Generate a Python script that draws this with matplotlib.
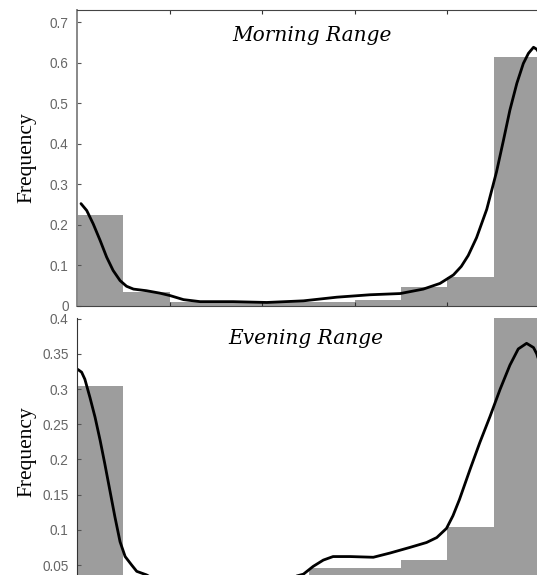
import matplotlib
matplotlib.use("Agg")
import matplotlib.pyplot as plt
import numpy as np

# ---- data ----
bin_edges = [0.0, 0.1, 0.2, 0.3, 0.4, 0.5, 0.6, 0.7, 0.8, 0.9, 1.0]
morning_freq = [0.223, 0.035, 0.008, 0.012, 0.009, 0.009, 0.013, 0.045, 0.07, 0.613]
evening_freq = [0.305, 0.02, 0.01, 0.008, 0.02, 0.046, 0.046, 0.057, 0.104, 0.42]

morning_curve_x = [0.0086, 0.021, 0.035, 0.050, 0.064, 0.078, 0.093, 0.107, 0.122, 0.150,
                   0.179, 0.201, 0.230, 0.266, 0.337, 0.410, 0.489, 0.561, 0.633, 0.698,
                   0.748, 0.784, 0.813, 0.830, 0.845, 0.863, 0.885, 0.906, 0.921, 0.935,
                   0.950, 0.964, 0.975, 0.986, 0.993, 1.0]
morning_curve_y = [0.252, 0.235, 0.202, 0.161, 0.120, 0.087, 0.062, 0.048, 0.041, 0.037,
                   0.031, 0.025, 0.015, 0.010, 0.010, 0.008, 0.012, 0.021, 0.027, 0.030,
                   0.041, 0.055, 0.076, 0.097, 0.124, 0.168, 0.238, 0.330, 0.408, 0.483,
                   0.549, 0.598, 0.623, 0.638, 0.633, 0.62]

evening_curve_x = [0.0015, 0.010, 0.017, 0.028, 0.039, 0.050, 0.060, 0.071, 0.082, 0.093,
                   0.104, 0.118, 0.129, 0.150, 0.18, 0.25, 0.32, 0.40, 0.45, 0.489,
                   0.510, 0.532, 0.553, 0.590, 0.640, 0.676, 0.719, 0.755, 0.777, 0.798,
                   0.812, 0.826, 0.849, 0.870, 0.892, 0.914, 0.935, 0.953, 0.971, 0.986,
                   0.993, 1.0]
evening_curve_y = [0.328, 0.324, 0.314, 0.288, 0.260, 0.227, 0.194, 0.156, 0.118, 0.083,
                   0.062, 0.050, 0.041, 0.036, 0.025, 0.018, 0.018, 0.022, 0.030, 0.037,
                   0.048, 0.057, 0.062, 0.062, 0.061, 0.067, 0.075, 0.082, 0.089, 0.102,
                   0.120, 0.143, 0.186, 0.224, 0.261, 0.300, 0.334, 0.357, 0.365, 0.359,
                   0.350, 0.335]

panel_titles = ["Morning Range", "Evening Range"]
ylabel = "Frequency"

# ---- figure ----
W, H = 537, 575
fig = plt.figure(figsize=(W / 100, H / 100), dpi=100)

bar_color = "#9d9d9d"
tick_color = "#666666"
lefts = bin_edges[:-1]
widths = np.diff(bin_edges)

ax1 = fig.add_axes([77 / W, 1 - 305.7 / H, 463 / W, 295.7 / H])
ax2 = fig.add_axes([77 / W, 0.0, 463 / W, 257 / H])

# top panel
ax1.bar(lefts, morning_freq, width=widths, align="edge", color=bar_color, edgecolor="none")
ax1.plot(morning_curve_x, morning_curve_y, color="black", lw=2.0,
         solid_capstyle="round", solid_joinstyle="round")
ax1.set_xlim(0, 1)
ax1.set_ylim(0, 0.73)
ax1.set_yticks([0, 0.1, 0.2, 0.3, 0.4, 0.5, 0.6, 0.7])
ax1.set_yticklabels(["0", "0.1", "0.2", "0.3", "0.4", "0.5", "0.6", "0.7"])
ax1.set_xticks([0.2, 0.4, 0.6, 0.8])
ax1.tick_params(axis="x", which="both", direction="in", top=True, bottom=True,
                labelbottom=False, length=3, color="#333333")
ax1.spines["right"].set_visible(False)
ax1.spines["top"].set_color("#444444")
ax1.spines["bottom"].set_color("#444444")
ax1.spines["left"].set_color("#888888")
ax1.spines["left"].set_linewidth(1.4)

# bottom panel
ax2.bar(lefts, evening_freq, width=widths, align="edge", color=bar_color, edgecolor="none")
ax2.plot(evening_curve_x, evening_curve_y, color="black", lw=2.0,
         solid_capstyle="round", solid_joinstyle="round")
ax2.set_xlim(0, 1)
ax2.set_ylim(0.0358, 0.401)
ax2.set_yticks([0.05, 0.1, 0.15, 0.2, 0.25, 0.3, 0.35, 0.4])
ax2.set_yticklabels(["0.05", "0.1", "0.15", "0.2", "0.25", "0.3", "0.35", "0.4"])
ax2.set_xticks([])
for s in ["top", "right", "bottom"]:
    ax2.spines[s].set_visible(False)
ax2.spines["left"].set_color("#333333")

for ax, title in zip([ax1, ax2], panel_titles):
    ax.tick_params(axis="y", direction="in", length=3, pad=6, color="#555555",
                   labelcolor=tick_color, labelsize=9.8)
    for lab in ax.get_yticklabels():
        lab.set_fontfamily("Liberation Sans")
    ax.set_ylabel(ylabel, family="Liberation Serif", fontsize=15.5, labelpad=2)

ax1.text(0.508, 0.915, panel_titles[0], transform=ax1.transAxes, ha="center", va="center",
         family="DejaVu Serif", style="italic", fontsize=14.5)
ax2.text(0.495, 0.92, panel_titles[1], transform=ax2.transAxes, ha="center", va="center",
         family="DejaVu Serif", style="italic", fontsize=14.5)

ax1.yaxis.set_label_coords(-0.088, 0.5)
ax2.yaxis.set_label_coords(-0.088, 0.48)

fig.savefig("out.png", dpi=100)
